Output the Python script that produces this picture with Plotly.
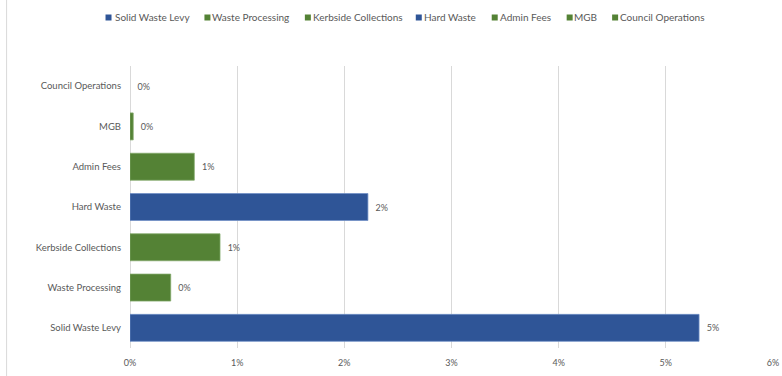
import plotly.graph_objects as go

categories = ["Solid Waste Levy", "Waste Processing", "Kerbside Collections",
              "Hard Waste", "Admin Fees", "MGB", "Council Operations"]
values = [0.0531, 0.0038, 0.0084, 0.0222, 0.0060, 0.0003, 0.0]
series_colors = ["#2F5597", "#548235", "#548235", "#2F5597", "#548235", "#548235", "#548235"]
line_colors = ["#6F8FC6", "#82A86A", "#82A86A", "#6F8FC6", "#82A86A", "#82A86A", "#82A86A"]
tick_vals = [0, 0.01, 0.02, 0.03, 0.04, 0.05, 0.06]

W, H = 782, 376
ML, MR, MT, MB = 129.5, 9, 66, 28
PW, PH = W - ML - MR, H - MT - MB

def px(x):
    return (x - ML) / PW

def py(y):
    return (H - MB - y) / PH

FONT = "Lato, 'Open Sans', sans-serif"
GREY = "#595959"

fig = go.Figure()
for cat, val, col, lc in zip(categories, values, series_colors, line_colors):
    fig.add_trace(go.Bar(
        y=[cat], x=[val], name=cat, orientation="h",
        marker=dict(color=col, line=dict(color=lc, width=0.75 if val > 0 else 0)),
        text=[val], texttemplate="\u00a0\u00a0%{x:.0%}", textposition="outside",
        textfont=dict(size=9, color=GREY, family=FONT),
        cliponaxis=False, showlegend=False,
    ))

# legend drawn as shapes + annotations
legend_sq_x = [105, 204, 304.5, 415.5, 491.5, 566.5, 612]
legend_tx_x = [112.5, 210, 310.5, 421.5, 497.5, 571.5, 618]
legend_y = 17
for cat, col, sx, tx in zip(categories, series_colors, legend_sq_x, legend_tx_x):
    fig.add_shape(type="rect", xref="paper", yref="paper",
                  x0=px(sx), x1=px(sx + 6), y0=py(legend_y + 3.5), y1=py(legend_y - 2.5),
                  fillcolor=col, line=dict(width=0))
    fig.add_annotation(text=cat, xref="paper", yref="paper", x=px(tx), y=py(legend_y),
                       xanchor="left", yanchor="middle", showarrow=False,
                       font=dict(size=10, color=GREY, family=FONT))

# chart area left border
fig.add_shape(type="line", xref="paper", yref="paper",
              x0=px(6), x1=px(6), y0=py(376), y1=py(0),
              line=dict(color="#D9D9D9", width=1))

fig.update_layout(
    width=W, height=H,
    margin=dict(l=ML, r=MR, t=MT, b=MB, autoexpand=False),
    barmode="overlay", bargap=0.33,
    plot_bgcolor="white", paper_bgcolor="white",
    font=dict(family=FONT, color=GREY, size=10),
    xaxis=dict(range=[0, 0.06], tickvals=tick_vals, tickformat=".0%",
               showgrid=True, gridcolor="#D9D9D9", gridwidth=1,
               zeroline=True, zerolinecolor="#D9D9D9", zerolinewidth=1,
               showline=False, ticks="", tickfont=dict(size=9, color=GREY),
               ticklabelstandoff=8, automargin=False, fixedrange=True),
    yaxis=dict(categoryorder="array", categoryarray=categories,
               showgrid=False, zeroline=False, showline=False, ticks="",
               tickfont=dict(size=9.5, color=GREY), ticklabelstandoff=8,
               automargin=False, fixedrange=True),
    showlegend=False,
)

fig.write_html("out.html", config={"displayModeBar": False},
               post_script="document.body.style.margin='0';document.body.style.overflow='hidden';")
